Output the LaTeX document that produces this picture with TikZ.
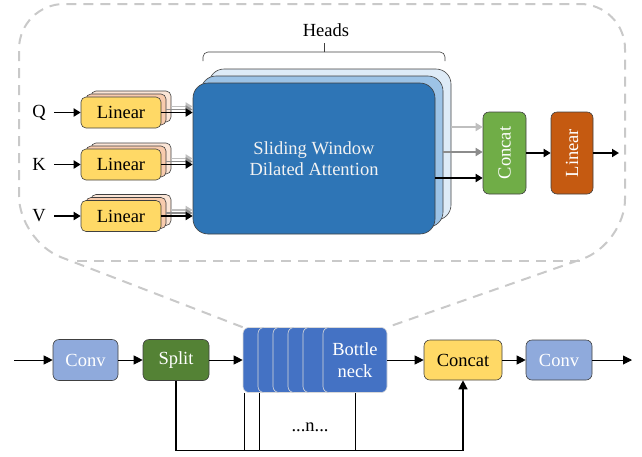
\documentclass[tikz,border=0pt]{standalone}
\usepackage{fontspec}
\usepackage{graphicx}
\setmainfont{Liberation Serif}
\usetikzlibrary{arrows.meta}
\definecolor{linFront}{HTML}{FFD966}
\definecolor{linMid}{HTML}{F8CBAD}
\definecolor{linBack}{HTML}{FBE5D6}
\definecolor{attFront}{HTML}{2E75B6}
\definecolor{attMid}{HTML}{9DC3E6}
\definecolor{attBack}{HTML}{DEEBF7}
\definecolor{catGreen}{HTML}{70AD47}
\definecolor{linOrange}{HTML}{C55A11}
\definecolor{convBlue}{HTML}{8FAADC}
\definecolor{splitGreen}{HTML}{548235}
\definecolor{neckBlue}{HTML}{4472C4}
\definecolor{dashGray}{HTML}{C9C9C9}
\definecolor{headLight}{HTML}{BFBFBF}
\definecolor{headMid}{HTML}{8C8C8C}
\tikzset{
  box/.style={draw=black!75, line width=0.6pt, rounded corners=6pt, align=center, inner sep=0pt},
  linbox/.style={box, rounded corners=5pt, minimum width=80pt, minimum height=31pt},
  attbox/.style={box, rounded corners=15pt, minimum width=242pt, minimum height=151pt},
  neckbox/.style={box, draw=black!15, fill=neckBlue, text=white, minimum width=64pt, minimum height=65pt},
  qkvarrow/.style={line width=1.8pt, -{Triangle[length=7pt,width=8pt]}},
  flowarrow/.style={line width=0.9pt, -{Triangle[length=9pt,width=9pt]}},
  outline/.style={draw=dashGray, line width=2pt, dash pattern=on 10pt off 7pt, rounded corners=45pt}
}
\begin{document}
\begin{tikzpicture}[x=1pt,y=-1pt,font=\fontsize{18.5}{21.5}\selectfont]
\useasboundingbox (0,0) rectangle (642,456);
\node[attbox, fill=attBack] (att2) at (330,144.5) {};
\node[attbox, fill=attMid] (att1) at (322,151.5) {};
\node[attbox, fill=attFront, text=white!95!black] (att) at (314,158.5) {Sliding Window\\Dilated Attention};
\draw[line width=0.6pt, draw=black!75, rounded corners=5pt] (203,61) -- (203,52) -- (445,52) -- (445,61);
\draw[line width=0.6pt, draw=black!75] (324,52) -- (324,43);
\node (heads) at (326,30) {Heads};
\foreach \y/\n/\t in {112.5/q/Q,164.5/k/K,216/v/V}{
  \node[linbox, fill=linBack] (l\n2) at (131,\y-6) {};
  \node[linbox, fill=linMid] (l\n1) at (126,\y-3) {};
  \node[linbox, fill=linFront] (l\n) at (121,\y) {Linear};
  \node[anchor=east, inner sep=0pt] (i\n) at (46,\y) {\t};
  \draw[qkvarrow, shorten <=8pt] (i\n.east) -- (l\n.west);
  \draw[qkvarrow, draw=headLight] (l\n2.east) -- (l\n2.east -| att.west);
  \draw[qkvarrow, draw=headMid] (l\n1.east) -- (l\n1.east -| att.west);
  \draw[qkvarrow] (l\n.east) -- (l\n.east -| att.west);
}
\node[box, fill=catGreen, text=white, minimum width=43pt, minimum height=82pt] (cat) at (504.5,153) {\rotatebox{90}{Concat}};
\node[box, fill=linOrange, text=white, minimum width=42pt, minimum height=82pt] (lin) at (572,153) {\rotatebox{90}{Linear}};
\coordinate (o1) at (619,153);
\draw[qkvarrow, draw=headLight] (att2.east |- 0,127) -- (cat.west |- 0,127);
\draw[qkvarrow, draw=headMid] (att1.east |- 0,152) -- (cat.west |- 0,152);
\draw[qkvarrow] (att.east |- 0,178) -- (cat.west |- 0,178);
\draw[qkvarrow] (cat) -- (lin);
\draw[qkvarrow] (lin) -- (o1);
\node[box, fill=convBlue, text=white, minimum width=65pt, minimum height=41pt] (conv1) at (85.5,360) {Conv};
\node[box, fill=splitGreen, text=white, minimum width=66pt, minimum height=41pt] (split) at (176,360) {Split};
\foreach \x [count=\i] in {243,258,273,288,303}
  \node[neckbox] (b\i) at (\x+32,360) {};
\node[neckbox] (bn) at (355,360) {Bottle\\neck};
\node[box, fill=linFront, minimum width=78pt, minimum height=40pt] (cat2) at (463,360) {Concat};
\node[box, fill=convBlue, text=white, minimum width=66pt, minimum height=40pt] (conv2) at (559,360) {Conv};
\node (dots) at (310,427) {...n...};
\coordinate (in2) at (14,360);
\coordinate (o2) at (632,360);
\draw[flowarrow] (in2) -- (conv1);
\draw[flowarrow] (conv1) -- (split);
\draw[flowarrow] (split) -- (b1);
\draw[flowarrow] (bn) -- (cat2);
\draw[flowarrow] (cat2) -- (conv2);
\draw[flowarrow] (conv2) -- (o2);
\draw[line width=0.9pt] ([xshift=2pt]b1.south west) -- ++(0,58);
\draw[line width=0.9pt] ([xshift=2pt]b2.south west) -- ++(0,58);
\draw[line width=0.9pt] (bn.south) -- ++(0,58);
\draw[flowarrow, line width=1.3pt] (split.south) -- ++(0,70) -| (cat2.south);
\draw[outline] (b1.north west) -- (19,241) -- (19,4) -- (625,4) -- (625,244) -- (bn.north east);
\draw[outline, rounded corners=0pt] (77,261) -- (580,261);
\end{tikzpicture}
\end{document}
